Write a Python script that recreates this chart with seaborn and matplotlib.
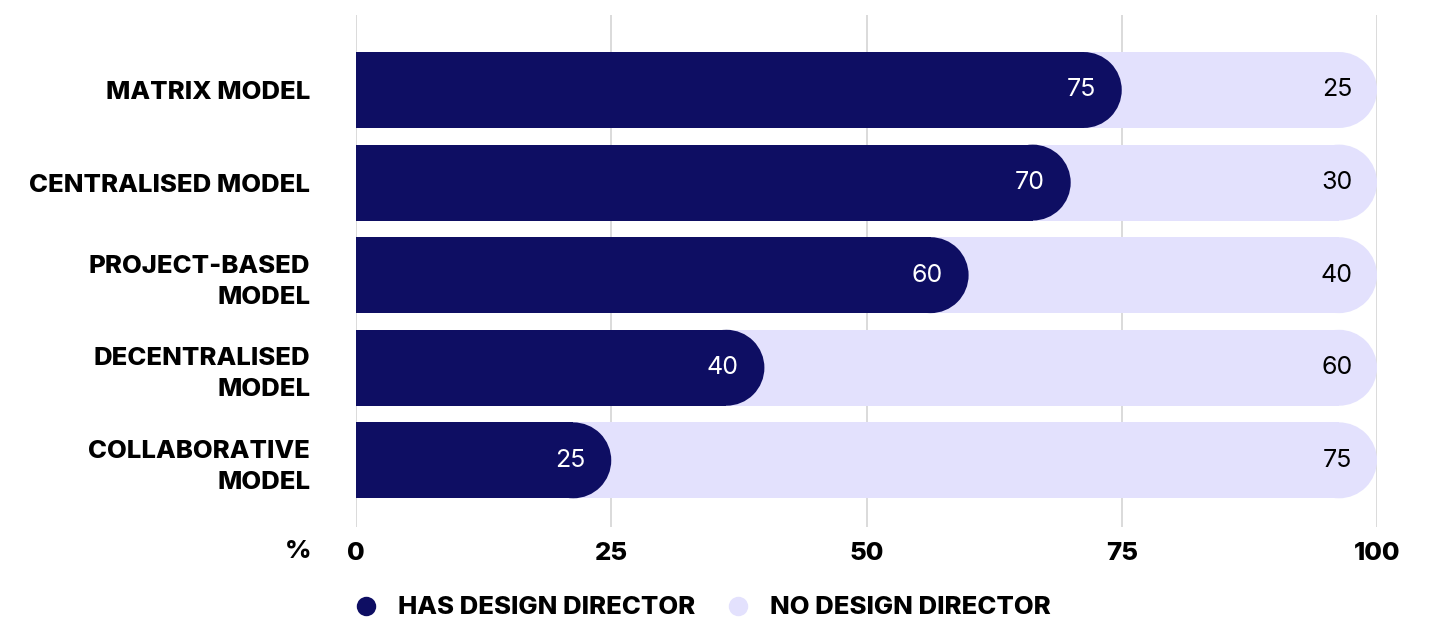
import matplotlib
matplotlib.use("Agg")
import matplotlib.pyplot as plt
from matplotlib.patches import Ellipse
from matplotlib.lines import Line2D
import seaborn as sns
import pandas as pd

categories = [
    "MATRIX MODEL",
    "CENTRALISED MODEL",
    "PROJECT-BASED\nMODEL",
    "DECENTRALISED\nMODEL",
    "COLLABORATIVE\nMODEL",
]
has_director = [75, 70, 60, 40, 25]
no_director = [25, 30, 40, 60, 75]
x_ticks = [0, 25, 50, 75, 100]
series_names = ["HAS DESIGN DIRECTOR", "NO DESIGN DIRECTOR"]

DARK = "#0E0E63"
LIGHT = "#E3E1FD"
GRID = "#D4D4D4"
FONT = "Inter"
LABEL_SIZE = 18.5
HEAVY = "heavy"

sns.set_theme(style="white")
plt.rcParams["font.family"] = [FONT, "DejaVu Sans"]
plt.rcParams["text.color"] = "black"
plt.rcParams["xtick.color"] = "black"
plt.rcParams["ytick.color"] = "black"

df = pd.DataFrame({
    "model": categories,
    "has": has_director,
    "no": no_director,
})
df["total"] = df["has"] + df["no"]

W, H = 1433, 619
fig = plt.figure(figsize=(W / 100, H / 100), dpi=100)
ax = fig.add_axes([356 / W, 1 - 527 / H, (1377 - 356) / W, (527 - 15) / H])

bar_h = 0.82
sns.barplot(data=df, x="total", y="model", orient="h", color=LIGHT,
            width=bar_h, saturation=1, ax=ax, zorder=2)
sns.barplot(data=df, x="has", y="model", orient="h", color=DARK,
            width=bar_h, saturation=1, ax=ax, zorder=3)

y_top, y_bot = -0.81, len(categories) - 1 + 0.72
ax.set_xlim(0, 100)
ax.set_ylim(y_bot, y_top)

# round off the right end of every bar with a half-disc of the bar's height
px_per_x = (1377 - 356) / 100.0
px_per_y = (527 - 15) / (y_bot - y_top)
for p in list(ax.patches):
    x0, y0 = p.get_x(), p.get_y()
    w, h = p.get_width(), p.get_height()
    r_x = (h * px_per_y / 2) / px_per_x
    p.set_width(w - r_x)
    p.set_linewidth(0)
    ax.add_patch(Ellipse((x0 + w - r_x, y0 + h / 2), 2 * r_x, h,
                         facecolor=p.get_facecolor(), edgecolor="none",
                         zorder=p.get_zorder()))

# value labels
for i, (h_val, n_val) in enumerate(zip(has_director, no_director)):
    ax.text(h_val - 2.5, i, f"{h_val}", ha="right", va="center",
            color="white", fontsize=18, family=FONT, zorder=5)
    ax.text(100 - 2.4, i, f"{n_val}", ha="right", va="center",
            color="black", fontsize=18, family=FONT, zorder=5)

# grid
for t in x_ticks:
    ax.axvline(t, color=GRID, lw=1.2, zorder=1)
ax.grid(False)
for s in ax.spines.values():
    s.set_visible(False)

ax.set_xlabel("")
ax.set_ylabel("")
ax.set_xticks(x_ticks)
ax.set_xticklabels([str(t) for t in x_ticks], fontsize=LABEL_SIZE,
                   fontweight=HEAVY, family=FONT)
ax.set_yticks(range(len(categories)))
ax.set_yticklabels(categories, fontsize=LABEL_SIZE, fontweight=HEAVY,
                   family=FONT, linespacing=1.45, ha="right")
ax.tick_params(axis="x", length=0, pad=11)
ax.tick_params(axis="y", length=0, pad=33)

fig.text(311 / W, 1 - 551 / H, "%", ha="right", va="center",
         fontsize=LABEL_SIZE, fontweight=HEAVY, family=FONT)

# legend
handles = [
    Line2D([], [], marker="o", ls="none", markersize=14, color=DARK, markeredgewidth=0),
    Line2D([], [], marker="o", ls="none", markersize=14, color=LIGHT, markeredgewidth=0),
]
fig.legend(handles, series_names, loc="center left",
           bbox_to_anchor=(330 / W, 1 - 608 / H), ncol=2, frameon=False,
           handletextpad=0.75, columnspacing=1.15, handlelength=1.0,
           prop={"family": FONT, "weight": HEAVY, "size": LABEL_SIZE})

fig.savefig("out.png", dpi=100)
